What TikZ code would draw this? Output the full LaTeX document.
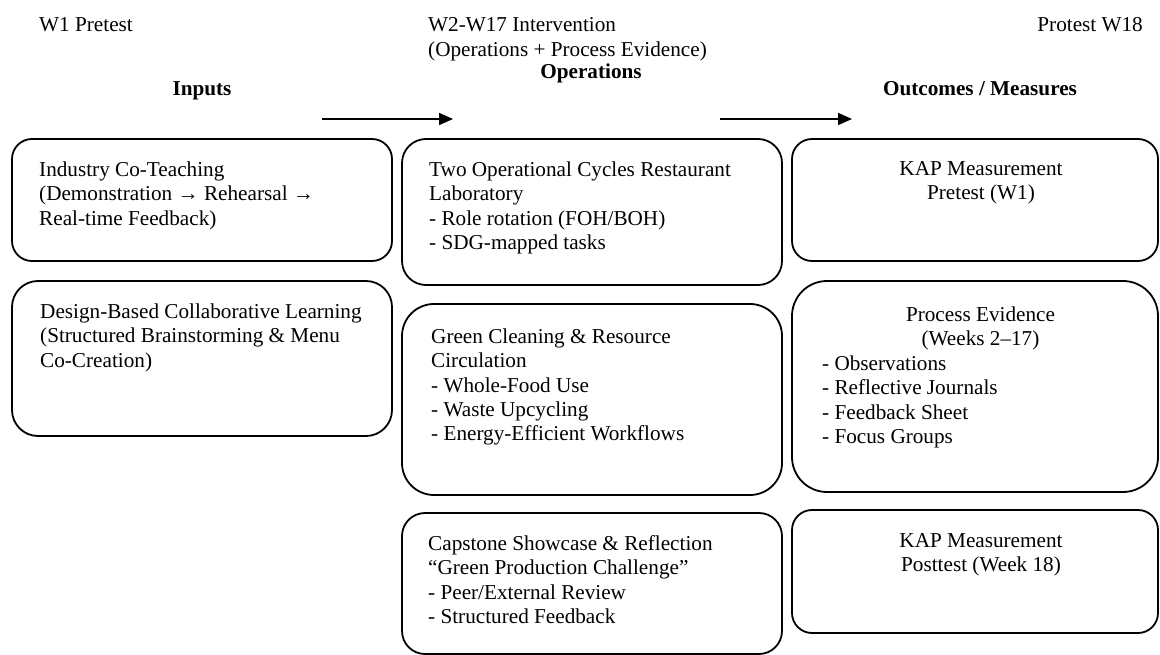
\documentclass[tikz,border=0pt]{standalone}
\usepackage{fontspec}
\setmainfont{Liberation Serif}
\usepackage{tikz}
\usetikzlibrary{arrows.meta, positioning}

\begin{document}
\begin{tikzpicture}[x=1pt, y=-1pt,
    every node/.style={font=\fontsize{21.2}{24.4}\selectfont, inner sep=0pt},
    panel/.style={draw, line width=1.8pt, inner sep=0pt},
    txt/.style={anchor=north west, align=left},
    ctxt/.style={anchor=north, align=center},
    flow/.style={line width=1.5pt, -{Triangle[length=14pt, width=12pt]}}]
\useasboundingbox (0,0) rectangle (1160,655);

% Timeline and column headings
\node[anchor=base west] (pre) at (39,32) {W1 Pretest};
\node[txt] (interv) at (428,14.5) {\strut W2-W17 Intervention\\(Operations + Process Evidence)};
\node[anchor=base] (hops) at (591,79) {\bfseries Operations};
\node[anchor=base east] (post) at (1143,32) {Protest W18};
\node[anchor=base] (hin) at (202,96) {\bfseries Inputs};
\node[anchor=base] (hout) at (980,96) {\bfseries Outcomes / Measures};

% Arrows between the columns
\coordinate (a1s) at (322,119);
\coordinate (a1e) at (453,119);
\coordinate (a2s) at (720,119);
\coordinate (a2e) at (852,119);
\draw[flow] (a1s) -- (a1e);
\draw[flow] (a2s) -- (a2e);

% Inputs
\node[panel, minimum width=380pt, minimum height=122pt, rounded corners=20pt] (inA) at (202,200) {};
\node[txt] (inAt) at (39,159) {\strut Industry Co-Teaching\\(Demonstration → Rehearsal →\\Real-time Feedback)};
\node[panel, minimum width=380pt, minimum height=155pt, rounded corners=26pt] (inB) at (202,358.5) {};
\node[txt] (inBt) at (40,301) {\strut Design-Based Collaborative Learning\\(Structured Brainstorming \& Menu\\Co-Creation)};

% Operations
\node[panel, minimum width=380pt, minimum height=146pt, rounded corners=24pt] (opA) at (592,212) {};
\node[txt] (opAt) at (429,159) {\strut Two Operational Cycles Restaurant\\Laboratory\\- Role rotation (FOH/BOH)\\- SDG-mapped tasks};
\node[panel, minimum width=380pt, minimum height=191pt, rounded corners=32pt] (opB) at (592,399.5) {};
\node[txt] (opBt) at (431,326) {\strut Green Cleaning \& Resource\\Circulation\\- Whole-Food Use\\- Waste Upcycling\\- Energy-Efficient Workflows};
\node[panel, minimum width=380pt, minimum height=141pt, rounded corners=23pt] (opC) at (592,583.5) {};
\node[txt] (opCt) at (428,533) {\strut Capstone Showcase \& Reflection\\“Green Production Challenge”\\- Peer/External Review\\- Structured Feedback};

% Outcomes / Measures
\node[panel, minimum width=366pt, minimum height=122pt, rounded corners=20pt] (outA) at (975,200) {};
\node[ctxt] (outAt) at (981,158) {\strut KAP Measurement\\Pretest (W1)};
\node[panel, minimum width=366pt, minimum height=211pt, rounded corners=35pt] (outB) at (975,386.5) {};
\node[ctxt] (outBt) at (980.5,304) {\strut Process Evidence\\(Weeks 2–17)};
\node[txt] (outBl) at (822,353) {\strut - Observations\\- Reflective Journals\\- Feedback Sheet\\- Focus Groups};
\node[panel, minimum width=366pt, minimum height=123pt, rounded corners=20pt] (outC) at (975,571.5) {};
\node[ctxt] (outCt) at (981,530) {\strut KAP Measurement\\Posttest (Week 18)};
\end{tikzpicture}
\end{document}
